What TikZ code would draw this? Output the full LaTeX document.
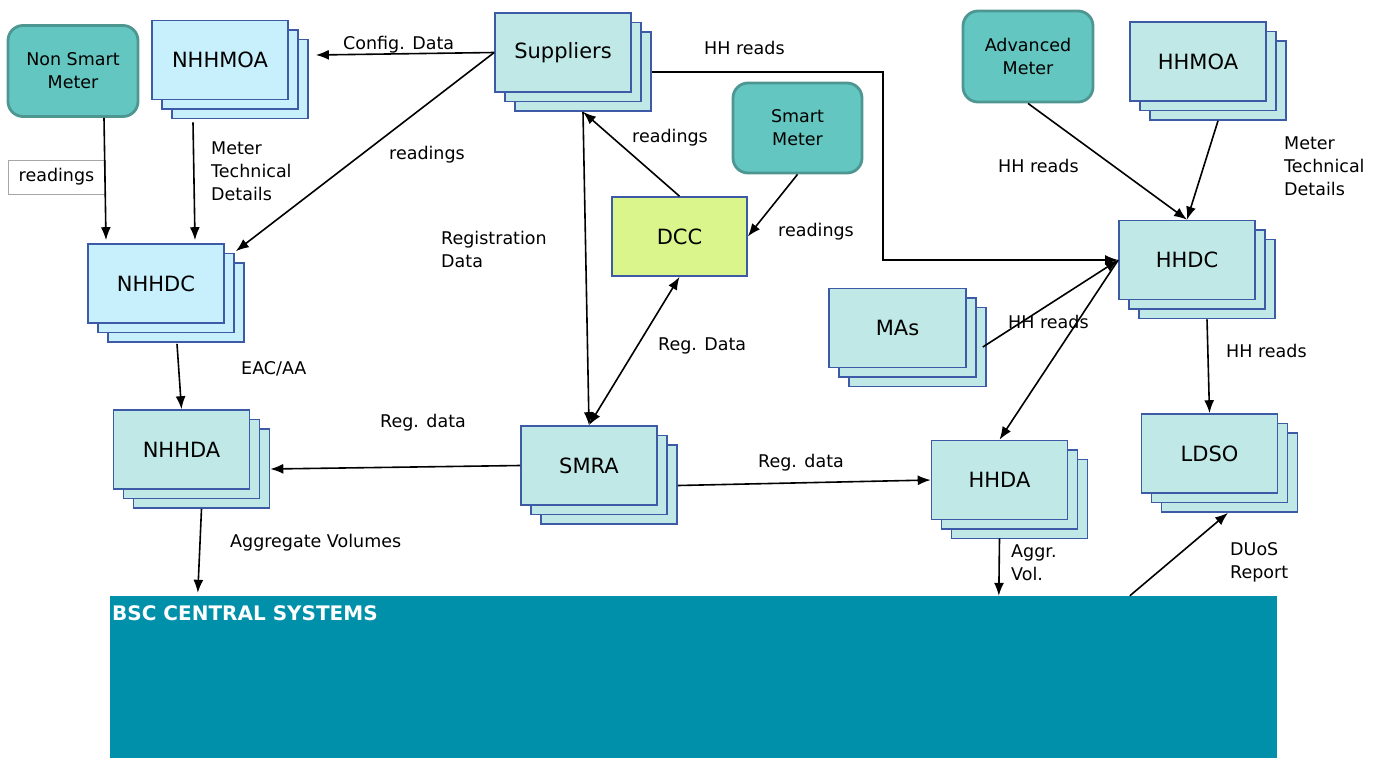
\documentclass[tikz,border=0pt]{standalone}
\usepackage{fontspec}
\setmainfont{DejaVu Sans}
\usetikzlibrary{arrows,arrows.meta,positioning,shapes,shadows}
\definecolor{lteal}{RGB}{192,232,230}
\definecolor{lcyan}{RGB}{200,240,252}
\definecolor{meterteal}{RGB}{100,198,192}
\definecolor{meteredge}{RGB}{78,150,145}
\definecolor{boxblue}{RGB}{60,90,165}
\definecolor{dccgreen}{RGB}{218,245,140}
\definecolor{bscblue}{RGB}{0,144,170}
\tikzstyle{stackbox} = [rectangle, draw=boxblue, line width=1.6pt,
  minimum width=136pt, minimum height=79pt, inner sep=0pt,
  font=\fontsize{21}{25}\selectfont]
\tikzstyle{meterbox} = [rectangle, rounded corners=15pt, draw=meteredge, line width=2.8pt,
  fill=meterteal, minimum width=130pt, minimum height=91pt, align=center,
  font=\fontsize{17.5}{23}\selectfont]
\tikzstyle{lbl} = [anchor=west, align=left, inner sep=0pt, font=\fontsize{17.5}{23}\selectfont]
\tikzstyle{line} = [draw, line width=1.6pt, color=black, -{Latex[length=13pt,width=10pt]}]
\tikzset{
  stacked/.style={stackbox, fill=#1,
    double copy shadow={shadow xshift=10pt, shadow yshift=-9.5pt,
      fill=#1, draw=boxblue, line width=1.6pt}}
}
\begin{document}
\begin{tikzpicture}[x=1pt, y=1pt]
  \useasboundingbox (0,0) rectangle (1378,-758);

  %%%%%%%%%%%%%%%%%%%%%%%%%%%%%%%%%%%%%%%%%%%%%%%%%%%%%%%%%%%%%%
  %                   NON HALF HOURLY                          %
  %%%%%%%%%%%%%%%%%%%%%%%%%%%%%%%%%%%%%%%%%%%%%%%%%%%%%%%%%%%%%%

  \node [meterbox] at (73,-71) (nsm) {Non Smart\\Meter};
  \node [stacked=lcyan] at (220,-60) (nhhmoa) {NHHMOA};
  \node [stacked=lcyan] at (156,-283.5) (nhhdc) {NHHDC};
  \node [stacked=lteal] at (181.5,-449.5) (nhhda) {NHHDA};
  \node [rectangle, draw=black!35, line width=0.8pt, minimum width=97pt, minimum height=34pt,
    font=\fontsize{17.5}{23}\selectfont] at (56.5,-177) (nsmreadings) {readings};

  %%%%%%%%%%%%%%%%%%%%%%%%%%%%%%%%%%%%%%%%%%%%%%%%%%%%%%%%%%%%%%
  %                   SUPPLIERS AND SMART                      %
  %%%%%%%%%%%%%%%%%%%%%%%%%%%%%%%%%%%%%%%%%%%%%%%%%%%%%%%%%%%%%%

  \node [stacked=lteal] at (563,-52.5) (sup) {Suppliers};
  \node [meterbox, minimum width=129pt, minimum height=90pt] at (797.5,-128) (sm) {Smart\\Meter};
  \node [stackbox, fill=dccgreen, minimum width=135pt] at (679.5,-236.5) (dcc) {DCC};
  \node [stacked=lteal] at (589,-465.5) (smra) {SMRA};

  %%%%%%%%%%%%%%%%%%%%%%%%%%%%%%%%%%%%%%%%%%%%%%%%%%%%%%%%%%%%%%
  %                   HALF HOURLY                              %
  %%%%%%%%%%%%%%%%%%%%%%%%%%%%%%%%%%%%%%%%%%%%%%%%%%%%%%%%%%%%%%

  \node [meterbox] at (1028,-56.5) (am) {Advanced\\Meter};
  \node [stacked=lteal] at (1198,-61.5) (hhmoa) {HHMOA};
  \node [stacked=lteal] at (1187,-260) (hhdc) {HHDC};
  \node [stacked=lteal, minimum width=137pt] at (897.5,-328) (mas) {MAs};
  \node [stacked=lteal] at (999.5,-480) (hhda) {HHDA};
  \node [stacked=lteal] at (1209.5,-453.5) (ldso) {LDSO};

  %%%%%%%%%%%%%%%%%%%%%%%%%%%%%%%%%%%%%%%%%%%%%%%%%%%%%%%%%%%%%%
  %                   BSC CENTRAL SYSTEMS                      %
  %%%%%%%%%%%%%%%%%%%%%%%%%%%%%%%%%%%%%%%%%%%%%%%%%%%%%%%%%%%%%%

  \node [rectangle, fill=bscblue, minimum width=1167pt, minimum height=162pt, inner sep=0pt]
    at (693.5,-677) (bsc) {};
  \node [anchor=west, inner sep=0pt, text=white, font=\fontsize{20}{24}\selectfont\bfseries]
    at (112,-613) (bsctitle) {BSC CENTRAL SYSTEMS};

  % connectors
  \draw [line] ([xshift=31pt]nsm.south) -- ([xshift=-50pt,yshift=3pt]nhhdc.north);
  \draw [line] ([xshift=-27pt,yshift=-22pt]nhhmoa.south) -- ([xshift=39pt,yshift=3pt]nhhdc.north);
  \draw [line] (sup.west) -- ([xshift=27pt,yshift=5pt]nhhmoa.east);
  \draw [line] (sup.west) -- ([xshift=11pt,yshift=-8pt]nhhdc.north east);
  \draw [line] ([xshift=20pt,yshift=-19.5pt]sup.east) -| ([xshift=-235pt]hhdc.west) -- (hhdc.west);
  \draw [line] (dcc.north) -- ([xshift=20pt,yshift=-19pt]sup.south);
  \draw [line] (sm.south) -- (dcc.east);
  \draw [line] ([xshift=20pt,yshift=-19pt]sup.south) -- (smra.north);
  \draw [line, {Latex[length=13pt,width=10pt]}-{Latex[length=13pt,width=10pt]}] (smra.north) -- (dcc.south);
  \draw [line] (smra.west) -- ([xshift=20pt,yshift=-19.5pt]nhhda.east);
  \draw [line] ([xshift=20pt,yshift=-20pt]smra.east) -- (hhda.west);
  \draw [line] ([xshift=16pt,yshift=-19pt]mas.east) -- (hhdc.west);
  \draw [line] (hhdc.west) -- (hhda.north);
  \draw [line] (am.south) -- (hhdc.north);
  \draw [line] ([xshift=20pt,yshift=-19pt]hhmoa.south) -- (hhdc.north);
  \draw [line] ([xshift=20pt,yshift=-19pt]hhdc.south) -- (ldso.north);
  \draw [line] ([xshift=21pt,yshift=-20pt]nhhdc.south) -- (nhhda.north);
  \draw [line] ([xshift=20pt,yshift=-19pt]nhhda.south) -- ([xshift=88pt,yshift=3pt]bsc.north west);
  \draw [line] ([yshift=-18pt]hhda.south) -- ([xshift=889pt]bsc.north west);
  \draw [line] ([xshift=1020pt]bsc.north west) -- ([xshift=18.5pt,yshift=-19pt]ldso.south);

  % labels
  \node [lbl] at (343,-45) (lconfig) {Config. Data};
  \node [lbl] at (211,-171) (lnhhmtd) {Meter\\Technical\\Details};
  \node [lbl] at (389,-155) (lsupread) {readings};
  \node [lbl] at (704,-48) (lsuphh) {HH reads};
  \node [lbl] at (632,-138) (ldccread) {readings};
  \node [lbl] at (778,-232) (lsmread) {readings};
  \node [lbl] at (441,-249.5) (lregdata) {Registration\\Data};
  \node [lbl] at (658,-346) (ldccreg) {Reg. Data};
  \node [lbl] at (380,-423) (lnhhdareg) {Reg. data};
  \node [lbl] at (758,-463) (lhhdareg) {Reg. data};
  \node [lbl] at (241,-369) (leac) {EAC/AA};
  \node [lbl] at (230,-543) (lagg) {Aggregate Volumes};
  \node [lbl] at (998,-166) (lamhh) {HH reads};
  \node [lbl] at (1284,-166) (lhhmtd) {Meter\\Technical\\Details};
  \node [lbl] at (1008,-322) (lmashh) {HH reads};
  \node [lbl] at (1226,-351) (lldsohh) {HH reads};
  \node [lbl] at (1011,-562.5) (laggvol) {Aggr.\\Vol.};
  \node [lbl] at (1230,-562.5) (lduos) {DUoS\\Report};

\end{tikzpicture}
\end{document}
